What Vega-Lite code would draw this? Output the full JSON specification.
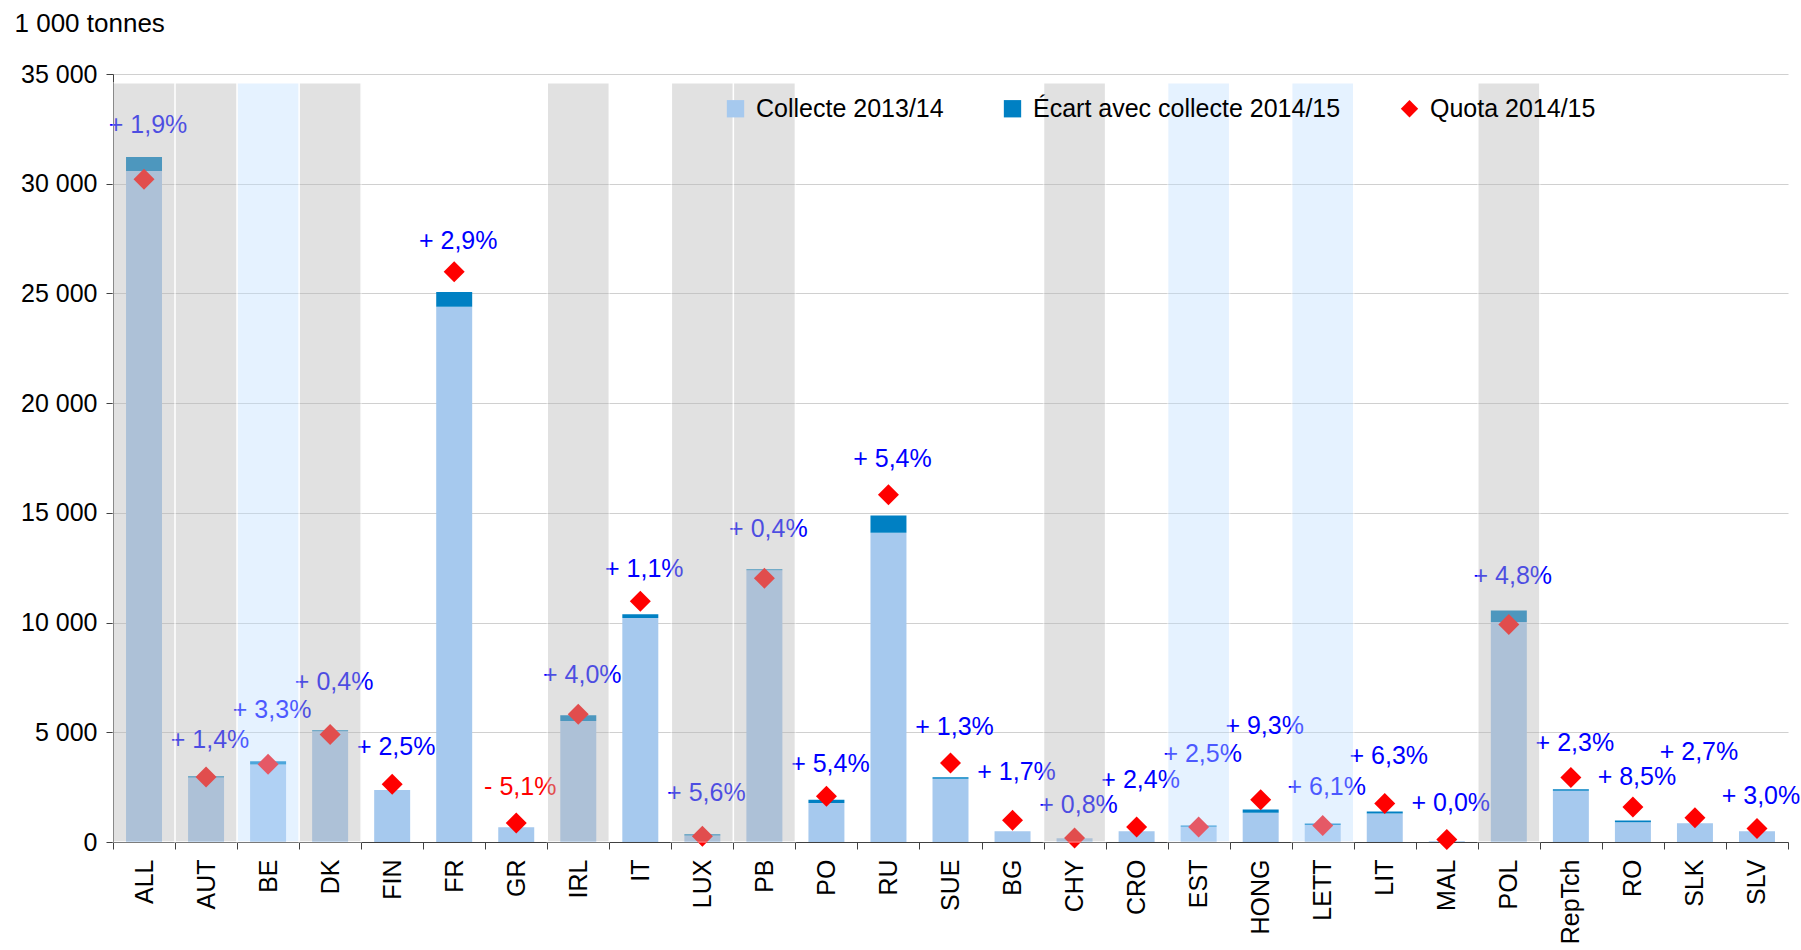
{
  "$schema": "https://vega.github.io/schema/vega-lite/v6.json",
  "width": 1675,
  "height": 768,
  "autosize": {"type": "none"},
  "padding": {"left": 113, "top": 74, "right": 13, "bottom": 108},
  "background": "white",
  "config": {
    "view": {"stroke": null},
    "font": "Liberation Sans",
    "axis": {"labelFont": "Liberation Sans", "titleFont": "Liberation Sans"},
    "legend": {"labelFont": "Liberation Sans"}
  },
  "data": {
    "values": [
      {"pays": "ALL", "Collecte 2013/14": 30580, "Écart avec collecte 2014/15": 640, "quota": 30200, "etiquette": 32680, "variation": "+ 1,9%", "pct": 1.9, "situation": "dépassé"},
      {"pays": "AUT", "Collecte 2013/14": 2940, "Écart avec collecte 2014/15": 60, "quota": 2960, "etiquette": 4630, "variation": "+ 1,4%", "pct": 1.4, "situation": "dépassé"},
      {"pays": "BE", "Collecte 2013/14": 3530, "Écart avec collecte 2014/15": 150, "quota": 3540, "etiquette": 6000, "variation": "+ 3,3%", "pct": 3.3, "situation": "dépassé, corrigé MG"},
      {"pays": "DK", "Collecte 2013/14": 5050, "Écart avec collecte 2014/15": 40, "quota": 4900, "etiquette": 7290, "variation": "+ 0,4%", "pct": 0.4, "situation": "dépassé"},
      {"pays": "FIN", "Collecte 2013/14": 2370, "Écart avec collecte 2014/15": 0, "quota": 2630, "etiquette": 4330, "variation": "+ 2,5%", "pct": 2.5, "situation": "respecté"},
      {"pays": "FR", "Collecte 2013/14": 24390, "Écart avec collecte 2014/15": 670, "quota": 25990, "etiquette": 27400, "variation": "+ 2,9%", "pct": 2.9, "situation": "respecté"},
      {"pays": "GR", "Collecte 2013/14": 670, "Écart avec collecte 2014/15": 0, "quota": 870, "etiquette": 2510, "variation": "- 5,1%", "pct": -5.1, "situation": "respecté"},
      {"pays": "IRL", "Collecte 2013/14": 5520, "Écart avec collecte 2014/15": 260, "quota": 5820, "etiquette": 7600, "variation": "+ 4,0%", "pct": 4.0, "situation": "dépassé"},
      {"pays": "IT", "Collecte 2013/14": 10210, "Écart avec collecte 2014/15": 170, "quota": 10970, "etiquette": 12450, "variation": "+ 1,1%", "pct": 1.1, "situation": "respecté"},
      {"pays": "LUX", "Collecte 2013/14": 300, "Écart avec collecte 2014/15": 50, "quota": 260, "etiquette": 2230, "variation": "+ 5,6%", "pct": 5.6, "situation": "dépassé"},
      {"pays": "PB", "Collecte 2013/14": 12380, "Écart avec collecte 2014/15": 50, "quota": 12020, "etiquette": 14270, "variation": "+ 0,4%", "pct": 0.4, "situation": "dépassé"},
      {"pays": "PO", "Collecte 2013/14": 1780, "Écart avec collecte 2014/15": 150, "quota": 2080, "etiquette": 3570, "variation": "+ 5,4%", "pct": 5.4, "situation": "respecté"},
      {"pays": "RU", "Collecte 2013/14": 14090, "Écart avec collecte 2014/15": 790, "quota": 15820, "etiquette": 17470, "variation": "+ 5,4%", "pct": 5.4, "situation": "respecté"},
      {"pays": "SUE", "Collecte 2013/14": 2880, "Écart avec collecte 2014/15": 70, "quota": 3600, "etiquette": 5240, "variation": "+ 1,3%", "pct": 1.3, "situation": "respecté"},
      {"pays": "BG", "Collecte 2013/14": 490, "Écart avec collecte 2014/15": 0, "quota": 990, "etiquette": 3190, "variation": "+ 1,7%", "pct": 1.7, "situation": "respecté"},
      {"pays": "CHY", "Collecte 2013/14": 170, "Écart avec collecte 2014/15": 0, "quota": 185, "etiquette": 1700, "variation": "+ 0,8%", "pct": 0.8, "situation": "dépassé"},
      {"pays": "CRO", "Collecte 2013/14": 490, "Écart avec collecte 2014/15": 0, "quota": 680, "etiquette": 2810, "variation": "+ 2,4%", "pct": 2.4, "situation": "respecté"},
      {"pays": "EST", "Collecte 2013/14": 690, "Écart avec collecte 2014/15": 60, "quota": 680, "etiquette": 4000, "variation": "+ 2,5%", "pct": 2.5, "situation": "dépassé, corrigé MG"},
      {"pays": "HONG", "Collecte 2013/14": 1330, "Écart avec collecte 2014/15": 150, "quota": 1930, "etiquette": 5270, "variation": "+ 9,3%", "pct": 9.3, "situation": "respecté"},
      {"pays": "LETT", "Collecte 2013/14": 770, "Écart avec collecte 2014/15": 70, "quota": 750, "etiquette": 2500, "variation": "+ 6,1%", "pct": 6.1, "situation": "dépassé, corrigé MG"},
      {"pays": "LIT", "Collecte 2013/14": 1300, "Écart avec collecte 2014/15": 90, "quota": 1760, "etiquette": 3900, "variation": "+ 6,3%", "pct": 6.3, "situation": "respecté"},
      {"pays": "MAL", "Collecte 2013/14": 30, "Écart avec collecte 2014/15": 0, "quota": 110, "etiquette": 1800, "variation": "+ 0,0%", "pct": 0.0, "situation": "respecté"},
      {"pays": "POL", "Collecte 2013/14": 10030, "Écart avec collecte 2014/15": 520, "quota": 9910, "etiquette": 12110, "variation": "+ 4,8%", "pct": 4.8, "situation": "dépassé"},
      {"pays": "RepTch", "Collecte 2013/14": 2330, "Écart avec collecte 2014/15": 70, "quota": 2940, "etiquette": 4490, "variation": "+ 2,3%", "pct": 2.3, "situation": "respecté"},
      {"pays": "RO", "Collecte 2013/14": 900, "Écart avec collecte 2014/15": 75, "quota": 1600, "etiquette": 2960, "variation": "+ 8,5%", "pct": 8.5, "situation": "respecté"},
      {"pays": "SLK", "Collecte 2013/14": 850, "Écart avec collecte 2014/15": 0, "quota": 1100, "etiquette": 4080, "variation": "+ 2,7%", "pct": 2.7, "situation": "respecté"},
      {"pays": "SLV", "Collecte 2013/14": 490, "Écart avec collecte 2014/15": 0, "quota": 610, "etiquette": 2080, "variation": "+ 3,0%", "pct": 3.0, "situation": "respecté"}
    ]
  },
  "encoding": {
    "x": {
      "field": "pays",
      "type": "nominal",
      "sort": null,
      "scale": {"paddingInner": 0, "paddingOuter": 0},
      "axis": {
        "title": null,
        "labelAngle": -90,
        "labelFontSize": 25,
        "labelColor": "#000000",
        "labelPadding": 10,
        "tickBand": "extent",
        "tickSize": 7,
        "tickColor": "#404040",
        "domainColor": "#404040",
        "grid": false
      }
    }
  },
  "layer": [
    {
      "transform": [{"fold": ["Collecte 2013/14", "Écart avec collecte 2014/15"], "as": ["serie", "tonnes"]}],
      "mark": {"type": "bar", "width": {"band": 0.58}},
      "encoding": {
        "y": {
          "field": "tonnes",
          "type": "quantitative",
          "stack": "zero",
          "scale": {"domain": [0, 35000], "nice": false},
          "axis": {
            "values": [0, 5000, 10000, 15000, 20000, 25000, 30000, 35000],
            "labelExpr": "replace(format(datum.value, ','), ',', ' ')",
            "labelFontSize": 25,
            "labelColor": "#000000",
            "labelPadding": 9,
            "tickSize": 7,
            "tickColor": "#404040",
            "domainColor": "#404040",
            "grid": true,
            "gridColor": "#D0D0D0",
            "gridWidth": 1.2,
            "title": "1 000 tonnes",
            "titleAngle": 0,
            "titleAlign": "left",
            "titleBaseline": "alphabetic",
            "titleX": -99,
            "titleY": -43,
            "titleFontSize": 26,
            "titleFontWeight": "normal",
            "titleColor": "#000000"
          }
        },
        "order": {"field": "serie", "sort": "ascending"},
        "color": {
          "field": "serie",
          "type": "nominal",
          "scale": {
            "domain": ["Collecte 2013/14", "Écart avec collecte 2014/15", "Quota 2014/15"],
            "range": ["#A6C9EE", "#0080C3", "#FF0000"]
          },
          "legend": {
            "title": null,
            "orient": "none",
            "direction": "horizontal",
            "legendX": 610,
            "legendY": 22,
            "padding": 0,
            "labelFontSize": 25,
            "labelColor": "#000000",
            "labelLimit": 600,
            "labelOffset": 8,
            "columnPadding": 56,
            "symbolSize": 300,
            "symbolStrokeWidth": 0
          }
        }
      }
    },
    {
      "mark": {"type": "point", "filled": true, "size": 441, "opacity": 1, "strokeWidth": 0},
      "encoding": {
        "y": {"field": "quota", "type": "quantitative"},
        "color": {"datum": "Quota 2014/15", "type": "nominal"},
        "shape": {
          "datum": "Quota 2014/15",
          "type": "nominal",
          "scale": {
            "domain": ["Collecte 2013/14", "Écart avec collecte 2014/15", "Quota 2014/15"],
            "range": ["square", "square", "diamond"]
          },
          "legend": {
            "title": null,
            "orient": "none",
            "direction": "horizontal",
            "legendX": 610,
            "legendY": 22,
            "padding": 0,
            "labelFontSize": 25,
            "labelColor": "#000000",
            "labelLimit": 600,
            "labelOffset": 8,
            "columnPadding": 56,
            "symbolSize": 300,
            "symbolStrokeWidth": 0
          }
        }
      }
    },
    {
      "mark": {"type": "text", "fontSize": 25, "baseline": "middle", "align": "center", "dx": 4},
      "encoding": {
        "y": {"field": "etiquette", "type": "quantitative"},
        "text": {"field": "variation", "type": "nominal"},
        "color": {"condition": {"test": "datum.pct < 0", "value": "#FF0000"}, "value": "#0000FF"}
      }
    },
    {
      "transform": [{"filter": "datum.situation === 'dépassé'"}],
      "mark": {"type": "bar", "width": {"band": 1}, "color": "#B8B8B8", "opacity": 0.42, "stroke": "#FFFFFF", "strokeWidth": 1.5, "strokeOpacity": 1},
      "encoding": {
        "y": {"datum": 34600, "type": "quantitative"},
        "y2": {"datum": 0}
      }
    },
    {
      "transform": [{"filter": "datum.situation === 'dépassé, corrigé MG'"}],
      "mark": {"type": "bar", "width": {"band": 1}, "color": "#BFDFFF", "opacity": 0.4, "stroke": "#FFFFFF", "strokeWidth": 1.5, "strokeOpacity": 1},
      "encoding": {
        "y": {"datum": 34600, "type": "quantitative"},
        "y2": {"datum": 0}
      }
    }
  ]
}
